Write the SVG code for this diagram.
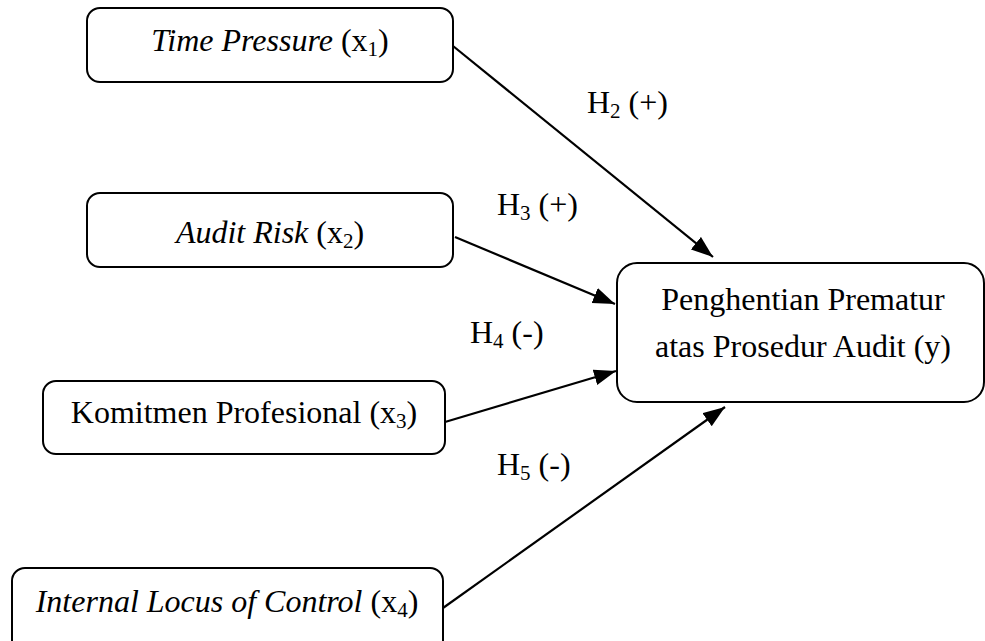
<svg xmlns="http://www.w3.org/2000/svg" width="985" height="641" viewBox="0 0 985 641">
<defs>
<style>
.box{fill:#fff;stroke:#000;stroke-width:2}
.t{font-family:"Liberation Serif","Times New Roman",serif;font-size:32px;fill:#000}
.c{text-anchor:middle}
.i{font-style:italic}
.sub{font-size:21px}
.conn{stroke:#000;stroke-width:2.2;fill:none}
</style>
<marker id="arr" markerUnits="userSpaceOnUse" markerWidth="23" markerHeight="17" refX="22" refY="8" orient="auto" viewBox="0 0 23 17">
<path d="M0,0 L22,8 L0,16 z" fill="#000"/>
</marker>
</defs>
<rect width="985" height="641" fill="#fff"/>
<g id="connectors">
<line class="conn" x1="453" y1="46" x2="713" y2="257" marker-end="url(#arr)"/>
<line class="conn" x1="455" y1="237" x2="615" y2="304" marker-end="url(#arr)"/>
<line class="conn" x1="445" y1="422" x2="616" y2="371" marker-end="url(#arr)"/>
<line class="conn" x1="443" y1="608" x2="725" y2="407" marker-end="url(#arr)"/>
</g>
<g id="node-x1">
<rect class="box" x="87" y="8" width="366" height="74" rx="13"/>
<text class="t c" x="270" y="51"><tspan class="i">Time Pressure</tspan> (x<tspan class="sub" dy="5">1</tspan><tspan dy="-5">)</tspan></text>
</g>
<g id="node-x2">
<rect class="box" x="87" y="193" width="366" height="74" rx="13"/>
<text class="t c" x="270" y="243"><tspan class="i">Audit Risk</tspan> (x<tspan class="sub" dy="5">2</tspan><tspan dy="-5">)</tspan></text>
</g>
<g id="node-x3">
<rect class="box" x="43" y="381" width="402" height="73" rx="13"/>
<text class="t c" x="244" y="423">Komitmen Profesional (x<tspan class="sub" dy="5">3</tspan><tspan dy="-5">)</tspan></text>
</g>
<g id="node-x4">
<rect class="box" x="12" y="568" width="431" height="85" rx="13"/>
<text class="t c" x="227" y="612"><tspan class="i">Internal Locus of Control</tspan> (x<tspan class="sub" dy="5">4</tspan><tspan dy="-5">)</tspan></text>
</g>
<g id="node-y">
<rect class="box" x="617" y="263" width="367" height="139" rx="20"/>
<text class="t c" x="803" y="310">Penghentian Prematur</text>
<text class="t c" x="803" y="357">atas Prosedur Audit (y)</text>
</g>
<g id="labels">
<text class="t" x="587" y="113">H<tspan class="sub" dy="5">2</tspan><tspan dy="-5"> (+)</tspan></text>
<text class="t" x="497" y="215">H<tspan class="sub" dy="5">3</tspan><tspan dy="-5"> (+)</tspan></text>
<text class="t" x="470" y="343">H<tspan class="sub" dy="5">4</tspan><tspan dy="-5"> (-)</tspan></text>
<text class="t" x="497" y="475">H<tspan class="sub" dy="5">5</tspan><tspan dy="-5"> (-)</tspan></text>
</g>
</svg>
